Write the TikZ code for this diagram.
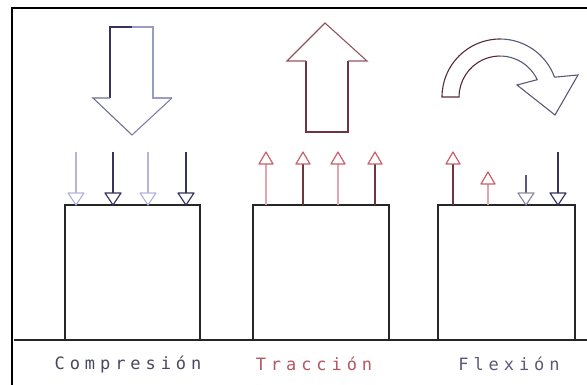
\documentclass[tikz,border=0pt]{standalone}
\usepackage{fontspec}
\setmainfont{Liberation Sans}
\newfontfamily\lblfont{DejaVu Sans Mono}
\definecolor{navy}{HTML}{34345E}
\definecolor{lav}{HTML}{B4B4DC}
\definecolor{maroon}{HTML}{6E3440}
\definecolor{lpink}{HTML}{E2A6AE}
\definecolor{rpink}{HTML}{C8606E}
\definecolor{graybl}{HTML}{5A5A78}
\tikzset{
  frameline/.style={line width=2.6pt, black},
  body/.style={line width=1.3pt, draw=black!85},
  lbl/.style={font=\lblfont\fontsize{17}{17}\selectfont\addfontfeatures{LetterSpace=29}, anchor=center, inner sep=0pt},
  bigarrow/.style={line width=1.1pt},
  smallarrow/.style={line width=1.2pt},
}
% down arrow: x, shaft-top y, colour
\newcommand{\dnarrow}[3]{%
  \draw[smallarrow,#3] (#1,#2) -- (#1,193);
  \draw[smallarrow,#3,line join=round] (#1-8,193) -- (#1+8,193) -- (#1,205) -- cycle;}
% up arrow: x, tip y, shaft colour, head colour
\newcommand{\uparrowx}[4]{%
  \draw[smallarrow,#3] (#1,#2+12) -- (#1,205);
  \draw[smallarrow,#4,line join=round] (#1-7,#2+12) -- (#1+7,#2+12) -- (#1,#2) -- cycle;}
\begin{document}
\begin{tikzpicture}[x=1pt,y=-1pt]
\useasboundingbox (0,0) rectangle (587,385);
\fill[white] (0,0) rectangle (587,385);
% frame
\draw[frameline] (12,385) -- (12,8) -- (587,8);
% ground
\draw[body] (14,340) -- (587,340);
% boxes
\draw[body] (65,340) -- (65,205) -- (200,205) -- (200,340);
\draw[body] (253,340) -- (253,205) -- (389,205) -- (389,340);
\draw[body] (438,340) -- (438,205) -- (575,205) -- (575,340);

% compression big arrow
\draw[bigarrow,navy] (110,98) -- (110,27) -- (132,27);
\draw[bigarrow,lav!80!navy] (132,27) -- (153,27) -- (153,98) -- (172,98);
\draw[bigarrow,navy!70] (110,98) -- (93,98) -- (132,135);
\draw[bigarrow,lav!60!navy] (132,135) -- (172,98);
% compression small arrows
\dnarrow{76}{152}{lav}
\dnarrow{113}{152}{navy}
\dnarrow{148}{152}{lav}
\dnarrow{186}{152}{navy}

% traction big arrow
\draw[bigarrow,maroon,line join=miter] (306,61) -- (306,132) -- (348,132) -- (348,61);
\draw[bigarrow,maroon!70!lpink,line join=miter] (306,61) -- (287,61) -- (325,23) -- (367,61) -- (348,61);
% traction small arrows
\uparrowx{266}{152}{lpink}{rpink}
\uparrowx{303}{152}{maroon}{rpink}
\uparrowx{338}{152}{lpink}{rpink}
\uparrowx{375}{152}{maroon}{rpink}

% flexion curved arrow
\begin{scope}
\clip (420,20) rectangle (500,140);
\draw[bigarrow,maroon!80!black,line join=miter] (442,97) arc[start angle=180,end angle=20,radius=58pt] -- (578,75) -- (555,115) -- (517,85) -- (537.2,79.7) arc[start angle=25,end angle=180,radius=41pt] -- cycle;
\end{scope}
\begin{scope}
\clip (500,20) rectangle (587,140);
\draw[bigarrow,graybl,line join=miter] (442,97) arc[start angle=180,end angle=20,radius=58pt] -- (578,75) -- (555,115) -- (517,85) -- (537.2,79.7) arc[start angle=25,end angle=180,radius=41pt] -- cycle;
\end{scope}
% flexion small arrows
\uparrowx{453}{152}{maroon}{rpink}
\uparrowx{488}{172}{lpink}{rpink}
\draw[smallarrow,graybl] (526,175) -- (526,193);
\draw[smallarrow,graybl!70,line join=round] (518,193) -- (534,193) -- (526,205) -- cycle;
\dnarrow{558}{152}{navy}

% labels
\node[lbl,text=graybl!80!black] (comp) at (128,364) {Compresión};
\node[lbl,text=rpink!90!black] (trac) at (314,364) {Tracción};
\node[lbl,text=graybl] (flex) at (509,364) {Flexión};
\end{tikzpicture}
\end{document}
